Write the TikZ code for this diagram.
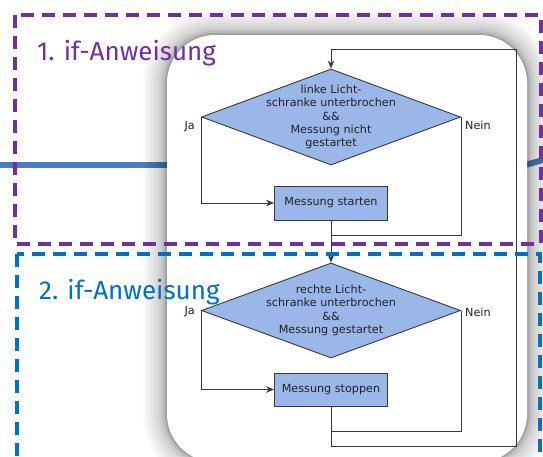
\documentclass[tikz,border=0pt]{standalone}
\usepackage{fontspec}
\setmainfont{DejaVu Sans}
\newfontfamily\firafont{Fira Sans}
\usetikzlibrary{shapes.geometric,arrows.meta}
\definecolor{purp}{HTML}{7030A0}
\definecolor{dblue}{HTML}{0070C0}
\definecolor{lineblue}{HTML}{4A7DBF}
\definecolor{boxfill}{HTML}{9BB7EA}
\definecolor{edge}{HTML}{3A3A3A}
\definecolor{txt}{HTML}{222222}
\begin{document}
\begin{tikzpicture}[x=1pt,y=-1pt,
  flowtext/.style={font=\fontsize{11.2}{13.3}\selectfont, text=txt, align=center, inner sep=0pt},
  dia/.style={shape=diamond, draw=edge, fill=boxfill, line width=0.9pt, inner sep=0pt, minimum width=259pt, minimum height=96pt},
  procbox/.style={draw=edge, fill=boxfill, line width=0.9pt, minimum width=113pt, minimum height=34pt, inner sep=0pt, font=\fontsize{11.2}{13.3}\selectfont, text=txt},
  conn/.style={draw=edge, line width=0.9pt},
  arr/.style={conn, -{Stealth[length=8pt,width=6.5pt]}},
  ifbox/.style={line width=4pt, dash pattern=on 13pt off 8pt},
  iflabel/.style={font=\firafont\fontsize{26}{30}\selectfont, anchor=base west, inner sep=0pt}
]
\useasboundingbox (0,0) rectangle (543,456);
\clip (0,0) rectangle (543,456);
\fill[white] (0,0) rectangle (543,456);
% blue background line
\draw[lineblue, line width=6pt] (0,165) -- (175,165);
\draw[lineblue, line width=6pt] (520,166.5) -- (543,160);
% shadow of the card
\foreach \e/\o in {2/0.12,4/0.06,6/0.04,8/0.03,10/0.02,12/0.02,14/0.02,16/0.02,18/0.02,20/0.02,22/0.02,24/0.02}{
  \fill[black, opacity=\o, rounded corners=48pt+\e pt]
    (167-\e,35-\e) rectangle (527+\e,462+\e);
}
% card
\fill[white, rounded corners=48pt] (167,35) rectangle (527,462);

% flowchart
\node[dia] (d1) at (331,117) {};
\node[flowtext] (t1) at (d1.center) {linke Licht-\\schranke unterbrochen\\\&\&\\Messung nicht\\gestartet};
\node[procbox] (b1) at (331,203) {Messung starten};
\node[dia, minimum height=95pt] (d2) at (331,310.5) {};
\node[flowtext] (t2) at (d2.center) {rechte Licht-\\schranke unterbrochen\\\&\&\\Messung gestartet};
\node[procbox, minimum height=33pt] (b2) at (331,389.5) {Messung stoppen};

\node[flowtext, anchor=east] (ja1) at (195,127) {Ja};
\node[flowtext, anchor=west] (nein1) at (465,125) {Nein};
\node[flowtext, anchor=east] (ja2) at (195,312) {Ja};
\node[flowtext, anchor=west] (nein2) at (465,312) {Nein};

\coordinate (j1) at (331,235);
\coordinate (j2) at (331,431);
\coordinate (lb) at (331,446);
\coordinate (rb) at (516,446);
\coordinate (rt) at (516,49);
\coordinate (lt) at (331,49);

\draw[arr] (d1.west) |- (b1.west);
\draw[conn] (d1.east) |- (j1);
\draw[arr] (b1.south) -- (d2.north);
\draw[arr] (d2.west) |- (b2.west);
\draw[conn] (d2.east) |- (j2);
\draw[conn] (b2.south) -- (lb) -- (rb) -- (rt) -- (lt);
\draw[arr] (lt) -- (d1.north);

% dashed frames
\draw[purp, ifbox] (15,15) rectangle (541,244);
\draw[dblue, ifbox] (17,254) rectangle (540,480);
\node[iflabel, text=purp] (l1) at (37,60) {1. if-Anweisung};
\node[iflabel, text=dblue] (l2) at (39,299) {2. if-Anweisung};
\end{tikzpicture}
\end{document}
